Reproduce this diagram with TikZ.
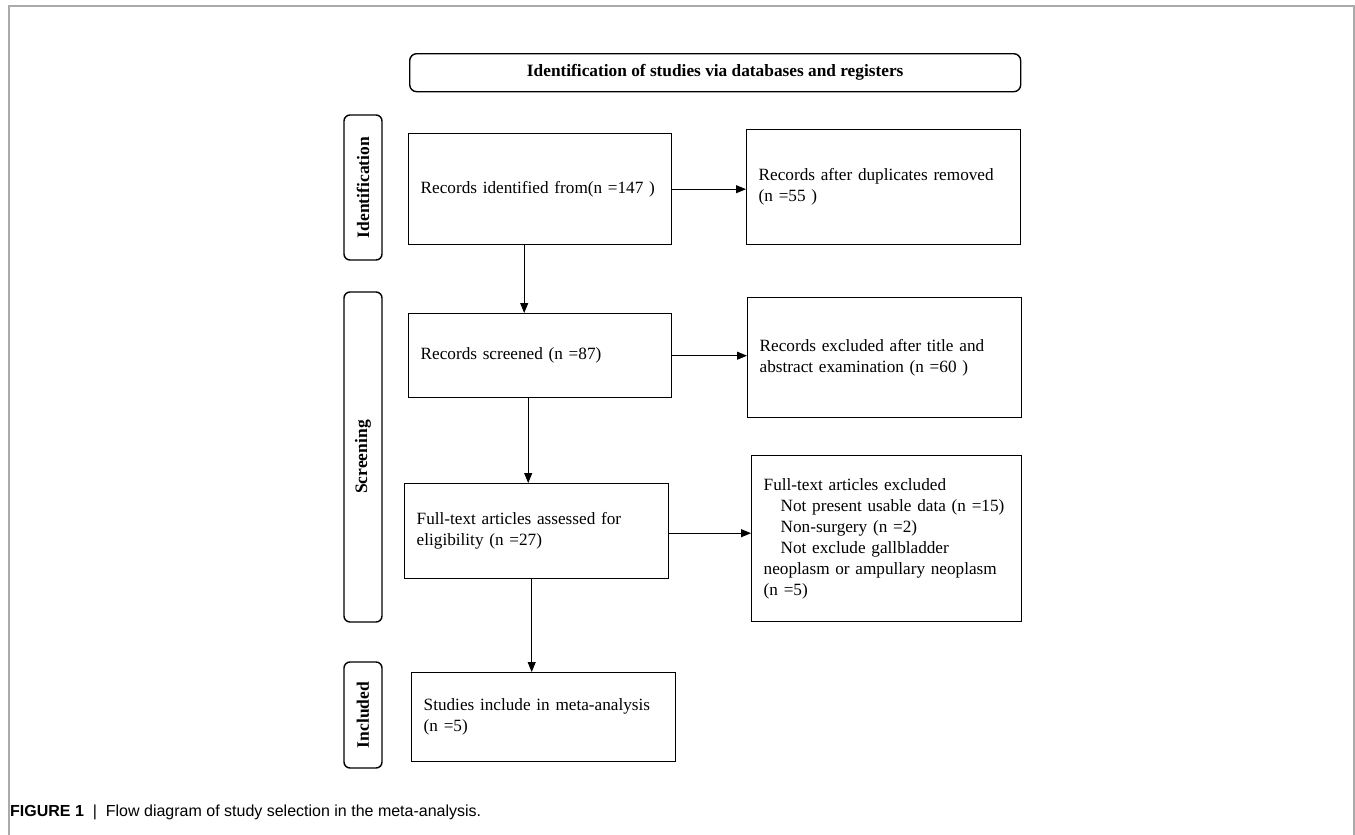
\documentclass[tikz,border=0pt]{standalone}
\usepackage{fontspec}
\setmainfont{Liberation Serif}
\newfontfamily\capfont{Liberation Sans}
\usepackage{tikz}
\usetikzlibrary{arrows.meta, positioning, calc}
\definecolor{framegray}{RGB}{170, 170, 170}

\begin{document}
\begin{tikzpicture}[x=1pt, y=-1pt,
    flowbox/.style={draw, line width=1.4pt, anchor=north west, align=left, inner xsep=12pt, inner ysep=0pt,
      font=\fontsize{17.2}{21}\selectfont},
    stagebox/.style={draw, line width=1.4pt, rounded corners=6pt, rotate=90, minimum height=38pt, inner sep=0pt,
      font=\fontsize{17.5}{21}\selectfont\bfseries},
    flowarrow/.style={line width=1pt, -{Triangle[length=10pt, width=8pt]}}]
  \useasboundingbox (0,0) rectangle (1355,835);
  % Figure frame, open at the bottom
  \draw[framegray, line width=1.2pt] (9,835) -- (9,6) -- (1354,6) -- (1354,835);

  % Header
  \node[draw, line width=1.4pt, rounded corners=7pt, anchor=north west, minimum width=611pt, minimum height=38pt,
    font=\fontsize{17.3}{20}\selectfont\bfseries] (header) at (409,53) {Identification of studies via databases and registers};

  % Stage labels on the left
  \node[stagebox, minimum width=145pt] (stageid) at (363,187.5) {Identification};
  \node[stagebox, minimum width=330pt] (stagescr) at (363,457) {Screening};
  \node[stagebox, minimum width=106pt] (stageinc) at (363,715) {Included};

  % Main column
  \node[flowbox, minimum width=263pt, minimum height=111pt, text width=239pt] (identified) at (408,133) {
    Records identified from(n =147 )};
  \node[flowbox, minimum width=263pt, minimum height=84pt, text width=239pt] (screened) at (408,313) {
    Records screened (n =87)};
  \node[flowbox, minimum width=264pt, minimum height=95pt, text width=240pt] (fulltext) at (404,483) {
    Full-text articles assessed for\\ eligibility (n =27)};
  \node[flowbox, minimum width=264pt, minimum height=89pt, text width=240pt] (included) at (411,672) {
    Studies include in meta-analysis\\ (n =5)};

  % Exclusions on the right
  \node[flowbox, minimum width=274pt, minimum height=115pt, text width=250pt] (duplicates) at (746,129) {
    Records after duplicates removed\\ (n =55 )};
  \node[flowbox, minimum width=274pt, minimum height=120pt, text width=250pt] (excluded) at (747,297) {
    Records excluded after title and\\ abstract examination (n =60 )};
  \node[flowbox, minimum width=270pt, minimum height=166pt, text width=246pt] (ftexcluded) at (751,455) {
    Full-text articles excluded\\
    \hspace*{17pt}Not present usable data (n =15)\\
    \hspace*{17pt}Non-surgery (n =2)\\
    \hspace*{17pt}Not exclude gallbladder\\
    neoplasm or ampullary neoplasm\\
    (n =5)};

  % Arrows
  \draw[flowarrow] (identified.east) -- (duplicates.west |- identified.east);
  \draw[flowarrow] (screened.east) -- (excluded.west |- screened.east);
  \draw[flowarrow] ([yshift=-2pt]fulltext.east) -- ([yshift=-2pt]ftexcluded.west |- fulltext.east);
  \draw[flowarrow] ([xshift=-16pt]identified.south) -- ([xshift=-16pt]identified.south |- screened.north);
  \draw[flowarrow] ([xshift=-12pt]screened.south) -- ([xshift=-12pt]screened.south |- fulltext.north);
  \draw[flowarrow] ([xshift=-5pt]fulltext.south) -- ([xshift=-5pt]fulltext.south |- included.north);

  % Caption
  \node[anchor=west, inner sep=0pt, font=\capfont\fontsize{16}{19}\selectfont] (caption) at (10,812) {
    \textbf{FIGURE 1}\ \ |\ \ Flow diagram of study selection in the meta-analysis.};
\end{tikzpicture}
\end{document}
